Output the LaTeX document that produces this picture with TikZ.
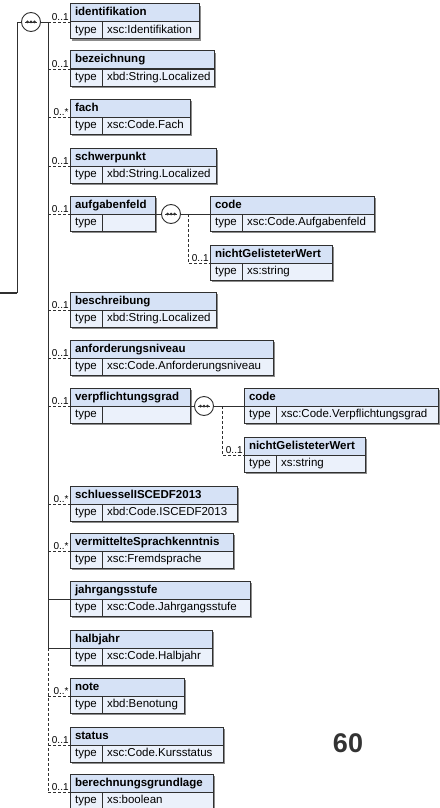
\documentclass[tikz,border=0pt]{standalone}
\usepackage{fontspec}
\setmainfont{Liberation Sans}
\definecolor{hdrblue}{RGB}{214,226,246}
\definecolor{rowblue}{RGB}{235,241,251}
\definecolor{boxline}{RGB}{48,48,48}
\tikzset{
  hdr/.style={draw=boxline, fill=hdrblue, line width=1pt, inner xsep=5pt, inner ysep=0pt, outer sep=0pt,
    minimum height=18pt, text height=8.5pt, text depth=2.5pt, align=left, font=\bfseries\fontsize{11.5}{13}\selectfont},
  tcell/.style={draw=boxline, fill=rowblue, line width=1pt, inner sep=0pt, outer sep=0pt,
    minimum width=32pt, minimum height=17pt, text height=8pt, text depth=2.5pt, font=\fontsize{11.5}{13}\selectfont},
  vcell/.style={tcell, inner xsep=5pt, minimum width=0pt, align=left},
  boxshadow/.style={fill=black!45},
  conn/.style={draw=boxline, line width=0.8pt},
  opt/.style={conn, dash pattern=on 3pt off 2pt},
  mult/.style={pos=1, anchor=south east, inner xsep=1pt, inner ysep=1.5pt, font=\fontsize{10}{11}\selectfont},
  seqsym/.style={circle, draw=boxline, fill=white, line width=0.9pt, minimum size=19pt, inner sep=0pt,
    path picture={\draw[boxline, line width=0.8pt] ([xshift=-6pt]path picture bounding box.center) -- ([xshift=6pt]path picture bounding box.center);
      \foreach \d in {-3.5,0,3.5} \fill[boxline] ([xshift=\d pt]path picture bounding box.center) circle (1.5pt);}},
}
% element box: name, left, top, width, title, type
\newcommand{\xelem}[6]{%
  \pgfmathsetmacro{\hw}{#4-10}%
  \pgfmathsetmacro{\vw}{#4-42}%
  \fill[boxshadow] (#2+2,#3+2) rectangle (#2+#4+2,#3+37);
  \node[hdr, text width=\hw pt, anchor=north west] (#1) at (#2,#3) {#5};
  \node[tcell, anchor=north west] (#1-t) at (#1.south west) {type};
  \node[vcell, text width=\vw pt, anchor=north west] (#1-v) at (#1-t.north east) {#6};
}

\begin{document}
\begin{tikzpicture}[x=1pt, y=-1pt]
\useasboundingbox (0,0) rectangle (439,808);

\node[seqsym] (seq) at (31,22) {};
\coordinate (tk) at (48,22);
\coordinate (lc) at (17,22);
\coordinate (lb) at (17,293);
\coordinate (le) at (0,293);

\xelem{identifikation}{70}{4}{129}{identifikation}{xsc:Identifikation}
\xelem{bezeichnung}{70}{51}{144}{bezeichnung}{xbd:String.Localized}
\xelem{fach}{70}{99}{120}{fach}{xsc:Code.Fach}
\xelem{schwerpunkt}{70}{148}{146}{schwerpunkt}{xbd:String.Localized}
\xelem{aufgabenfeld}{70}{196}{85}{aufgabenfeld}{}
\xelem{afcode}{210}{196}{164}{code}{xsc:Code.Aufgabenfeld}
\xelem{afwert}{210}{245}{122}{nichtGelisteterWert}{xs:string}
\xelem{beschreibung}{70}{292}{146}{beschreibung}{xbd:String.Localized}
\xelem{niveau}{70}{340}{203}{anforderungsniveau}{xsc:Code.Anforderungsniveau}
\xelem{verpflichtung}{70}{388}{120}{verpflichtungsgrad}{}
\xelem{vgcode}{244}{388}{194}{code}{xsc:Code.Verpflichtungsgrad}
\xelem{vgwert}{244}{437}{121}{nichtGelisteterWert}{xs:string}
\xelem{isced}{70}{486}{167}{schluesselISCEDF2013}{xbd:Code.ISCEDF2013}
\xelem{sprache}{70}{533}{163}{vermittelteSprachkenntnis}{xsc:Fremdsprache}
\xelem{jahrgang}{70}{581}{180}{jahrgangsstufe}{xsc:Code.Jahrgangsstufe}
\xelem{halbjahr}{70}{630}{142}{halbjahr}{xsc:Code.Halbjahr}
\xelem{note}{70}{678}{114}{note}{xbd:Benotung}
\xelem{status}{70}{727}{153}{status}{xsc:Code.Kursstatus}
\xelem{grundlage}{70}{774}{143}{berechnungsgrundlage}{xs:boolean}

% trunk
\draw[conn] (seq.west) -- (lc) -- (lb);
\draw[conn, line width=1.4pt] (lb) -- (le);
\draw[conn] (seq.east) -- (tk) -- (tk |- halbjahr.south west);
\draw[opt] (tk |- halbjahr.south west) -- (tk |- grundlage.south west);

\draw[opt] (tk) -- node[mult] {0..1} (identifikation.south west);
\draw[opt] (tk |- bezeichnung.south west) -- node[mult] {0..1} (bezeichnung.south west);
\draw[opt] (tk |- fach.south west) -- node[mult] {0..*} (fach.south west);
\draw[opt] (tk |- schwerpunkt.south west) -- node[mult] {0..1} (schwerpunkt.south west);
\draw[opt] (tk |- aufgabenfeld.south west) -- node[mult] {0..1} (aufgabenfeld.south west);
\draw[opt] (tk |- beschreibung.south west) -- node[mult] {0..1} (beschreibung.south west);
\draw[opt] (tk |- niveau.south west) -- node[mult] {0..1} (niveau.south west);
\draw[opt] (tk |- verpflichtung.south west) -- node[mult] {0..1} (verpflichtung.south west);
\draw[opt] (tk |- isced.south west) -- node[mult] {0..*} (isced.south west);
\draw[opt] (tk |- sprache.south west) -- node[mult] {0..*} (sprache.south west);
\draw[conn] (tk |- jahrgang.south west) -- (jahrgang.south west);
\draw[conn] (tk |- halbjahr.south west) -- (halbjahr.south west);
\draw[opt] (tk |- note.south west) -- node[mult] {0..*} (note.south west);
\draw[opt] (tk |- status.south west) -- node[mult] {0..1} (status.south west);
\draw[opt] (tk |- grundlage.south west) -- node[mult] {0..1} (grundlage.south west);

% aufgabenfeld choice
\node[seqsym] (afseq) at (171,214) {};
\coordinate (afk) at (188,214);
\draw[conn] (aufgabenfeld.south east) -- (afseq.west);
\draw[conn] (afseq.east) -- (afcode.south west);
\draw[opt] (afk) |- node[mult] {0..1} (afwert.south west);

% verpflichtungsgrad choice
\node[seqsym] (vgseq) at (204,406) {};
\coordinate (vgk) at (222,406);
\draw[conn] (verpflichtung.south east) -- (vgseq.west);
\draw[conn] (vgseq.east) -- (vgcode.south west);
\draw[opt] (vgk) |- node[mult] {0..1} (vgwert.south west);

\node[font=\bfseries\fontsize{27}{30}\selectfont, text=black!80] (seite) at (348,743) {60};
\end{tikzpicture}
\end{document}
